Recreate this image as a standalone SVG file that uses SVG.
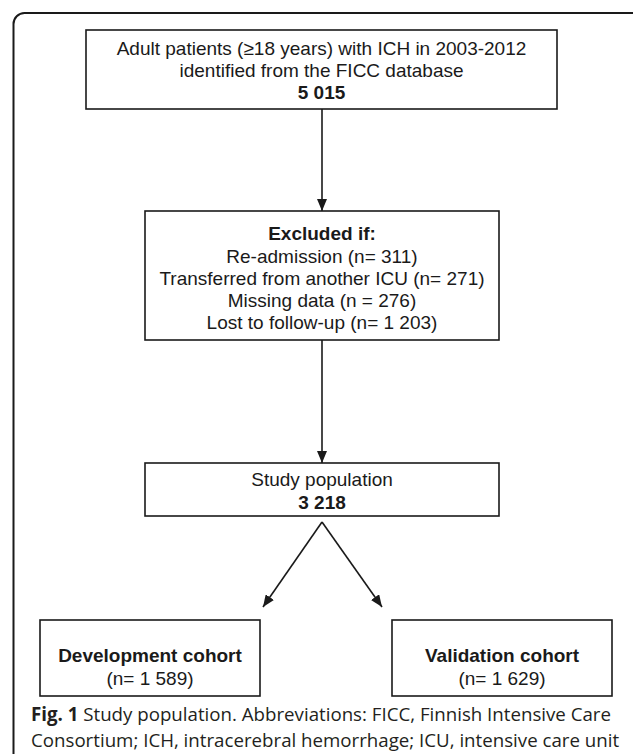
<svg xmlns="http://www.w3.org/2000/svg" width="633" height="754" viewBox="0 0 633 754">
<style>
.box{fill:#fff;stroke:#1a1a1a;stroke-width:1.6}
.t{font-family:"Liberation Sans",Arial,sans-serif;font-size:19px;fill:#1a1a1a;text-anchor:middle}
.b{font-weight:bold}
.con{stroke:#1a1a1a;stroke-width:1.6;fill:none}
.cap{font-family:"Open Sans",sans-serif;font-size:18.7px;fill:#231f20}
</style>
<defs>
<marker id="ah" viewBox="0 0 12 10" refX="12" refY="5" markerWidth="12" markerHeight="10" markerUnits="userSpaceOnUse" orient="auto">
<path d="M0,0 L12,5 L0,10 Z" fill="#1a1a1a"/>
</marker>
</defs>
<rect x="13.5" y="13" width="640" height="770" rx="11" fill="none" stroke="#1a1a1a" stroke-width="2"/>
<g id="connectors">
<line class="con" x1="322" y1="109" x2="322" y2="211" marker-end="url(#ah)"/>
<line class="con" x1="322" y1="340" x2="322" y2="463" marker-end="url(#ah)"/>
<line class="con" x1="322" y1="522" x2="263" y2="607" marker-end="url(#ah)"/>
<line class="con" x1="322" y1="522" x2="382" y2="607" marker-end="url(#ah)"/>
</g>
<g id="n1">
<rect class="box" x="86" y="30" width="471" height="79"/>
<text class="t" x="321.5" y="55">Adult patients (≥18 years) with ICH in 2003-2012</text>
<text class="t" x="321.5" y="77">identified from the FICC database</text>
<text class="t b" x="321.5" y="99">5 015</text>
</g>
<g id="n2">
<rect class="box" x="145" y="211" width="354" height="129"/>
<text class="t b" x="322" y="240">Excluded if:</text>
<text class="t" x="322" y="263">Re-admission (n= 311)</text>
<text class="t" x="322" y="285">Transferred from another ICU (n= 271)</text>
<text class="t" x="322" y="307">Missing data (n = 276)</text>
<text class="t" x="322" y="329">Lost to follow-up (n= 1 203)</text>
</g>
<g id="n3">
<rect class="box" x="145" y="463" width="354" height="53"/>
<text class="t" x="322" y="486">Study population</text>
<text class="t b" x="322" y="509">3 218</text>
</g>
<g id="n4">
<rect class="box" x="40" y="620" width="220" height="76"/>
<text class="t b" x="150" y="662">Development cohort</text>
<text class="t" x="150" y="685">(n= 1 589)</text>
</g>
<g id="n5">
<rect class="box" x="392" y="620" width="220" height="76"/>
<text class="t b" x="502" y="662">Validation cohort</text>
<text class="t" x="502" y="685">(n= 1 629)</text>
</g>
<text class="cap" x="31" y="721"><tspan font-weight="bold">Fig. 1</tspan> Study population. Abbreviations: FICC, Finnish Intensive Care</text>
<text class="cap" x="31" y="747">Consortium; ICH, intracerebral hemorrhage; ICU, intensive care unit</text>
</svg>
